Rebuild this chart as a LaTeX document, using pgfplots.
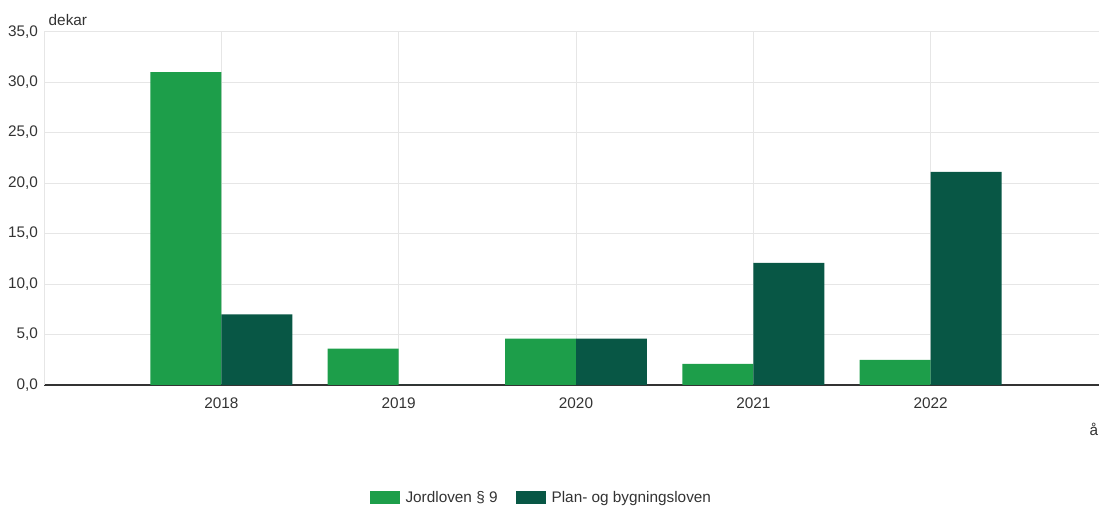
\documentclass[border=0pt]{standalone}
\usepackage{pgfplots}
\pgfplotsset{compat=1.18}
\usepackage{fontspec}
\setmainfont{Liberation Sans}
\definecolor{jord}{RGB}{29,158,74}
\definecolor{pbl}{RGB}{8,87,69}
\definecolor{gridc}{RGB}{230,230,230}
\definecolor{txt}{RGB}{51,51,51}
\begin{document}
\begin{tikzpicture}
\begin{axis}[
    scale only axis,
    width=798pt, height=265pt,
    xmin=-1, xmax=5,
    ymin=0, ymax=35,
    ytick={0,5,...,35},
    xtick={0,1,2,3,4},
    xticklabels={2018,2019,2020,2021,2022},
    axis lines=left,
    axis line style={-},
    x axis line style={draw=txt, line width=0.8pt},
    y axis line style={draw=gridc},
    major tick length=0pt,
    xmajorgrids, ymajorgrids,
    major grid style={draw=gridc, line width=0.6pt},
    tick label style={font=\fontsize{11.5}{13}\selectfont, text=txt},
    yticklabel style={xshift=-1pt},
    xticklabel style={yshift=-6pt},
    /pgf/number format/.cd, fixed, fixed zerofill, precision=1, use comma, assume math mode=true,
    /pgfplots/.cd,
    ybar=0pt, bar width=0.4,
    ylabel={dekar}, ylabel style={rotate=-90, anchor=south west, at={(rel axis cs:0,1)}, font=\fontsize{11.5}{13}\selectfont, text=txt, xshift=0pt, yshift=1pt},
    xlabel={år}, xlabel style={anchor=north east, at={(rel axis cs:1,0)}, font=\fontsize{11.5}{13}\selectfont, text=txt, yshift=-25pt},
    legend style={at={(rel axis cs:0.468,-0.32)}, anchor=center, draw=none, legend columns=2,
        font=\fontsize{11.5}{13}\selectfont, text=txt,
        /tikz/every odd column/.append style={column sep=2.5pt},
        /tikz/every even column/.append style={column sep=12pt}},
    legend image code/.code={\fill[#1] (0pt,-4.5pt) rectangle (22pt,5pt);},
]
\coordinate (o) at (rel axis cs:0,0);
\addplot[fill=jord, draw=none, bar shift=-0.2] coordinates {(0,31.0) (1,3.6) (2,4.6) (3,2.1) (4,2.5)};
\addplot[fill=pbl, draw=none, bar shift=0.2] coordinates {(0,7.0) (1,0) (2,4.6) (3,12.1) (4,21.1)};
\legend{Jordloven § 9, Plan- og bygningsloven}
\end{axis}
\pgfresetboundingbox
\path[use as bounding box] (o) ++(-33pt,-93pt) rectangle ++(824.25pt,381.75pt);
\end{tikzpicture}
\end{document}
